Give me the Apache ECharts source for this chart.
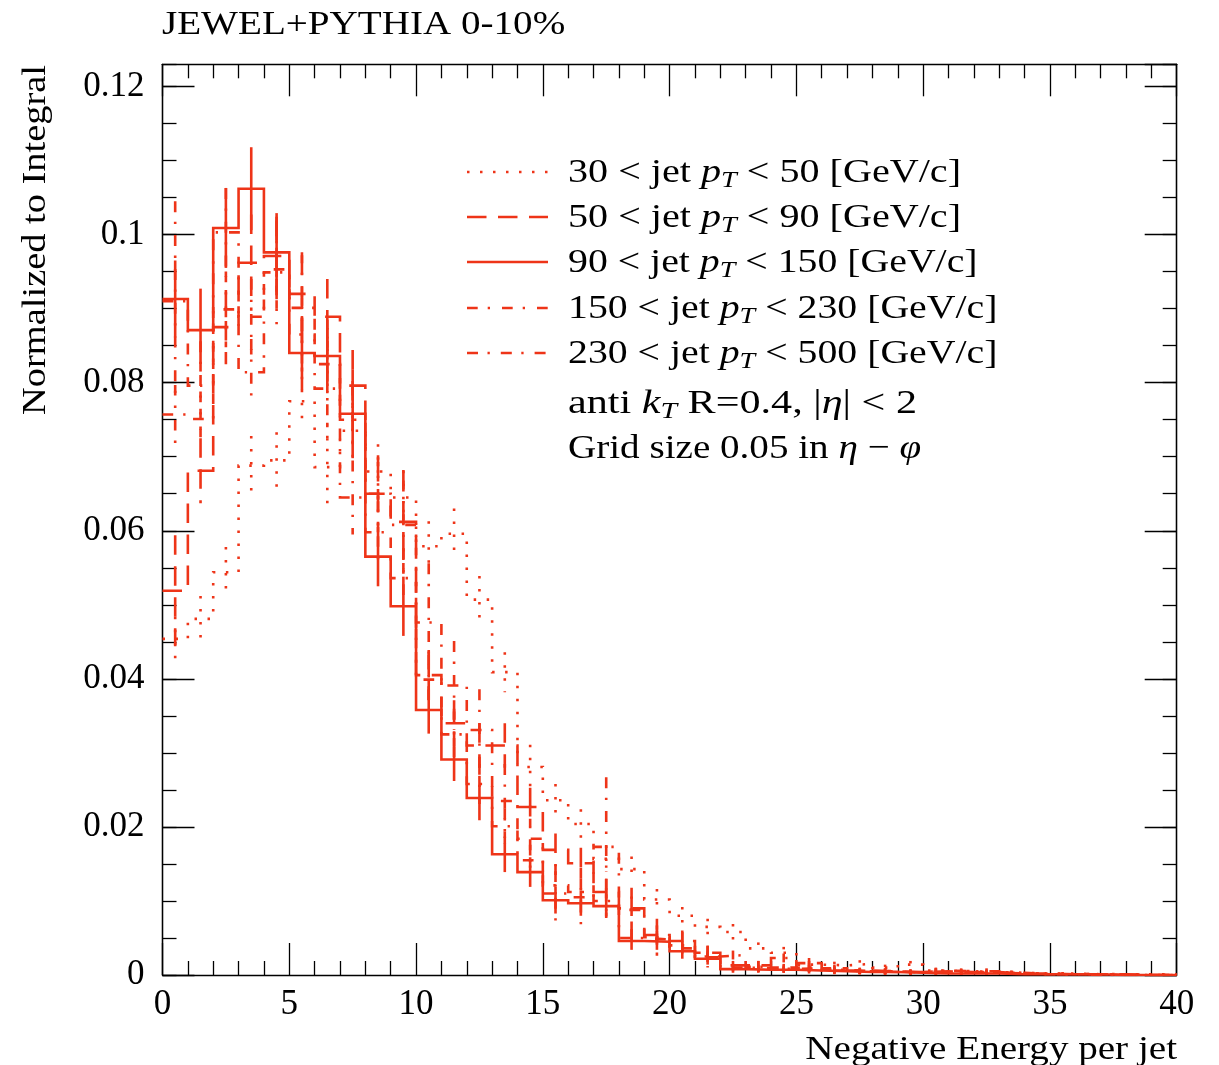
<!DOCTYPE html>
<html>
<head>
<meta charset="utf-8">
<title>JEWEL+PYTHIA 0-10%</title>
<script src="https://cdn.jsdelivr.net/npm/echarts@6/dist/echarts.min.js"></script>
<style>
    html, body { margin: 0; padding: 0; background: #fff; }
    #chart { width: 1219px; height: 1065px; }
</style>
</head>
<body>
<div id="chart"></div>
<script type="text/javascript">
// lower edge of each bin (bin width 1)
var binLow = [0, 1, 2, 3, 4, 5, 6, 7, 8, 9, 10, 11, 12, 13, 14, 15, 16, 17, 18, 19,
    20, 21, 22, 23, 24, 25, 26, 27, 28, 29, 30, 31, 32, 33, 34, 35, 36, 37, 38, 39];

// 30 < pT < 50 (dotted)
var pt30_50 = [0.0454, 0.0481, 0.0544, 0.0688, 0.0695, 0.0775, 0.0686, 0.0735, 0.0680, 0.0645,
    0.0579, 0.0596, 0.0507, 0.0409, 0.0281, 0.0236, 0.0204, 0.0157, 0.0143, 0.0102,
    0.0080, 0.0065, 0.0058, 0.0036, 0.0030, 0.0014, 0.0013, 0.0015, 0.0010, 0.0014,
    0.0006, 0.0005, 0.0004, 0.0003, 0.0002, 0.0002, 0.0001, 0.0001, 0.0001, 0.0001];
var err30_50 = [0.0030, 0.0031, 0.0034, 0.0040, 0.0038, 0.0033, 0.0060, 0.0038, 0.0037, 0.0036,
    0.0034, 0.0034, 0.0032, 0.0027, 0.0030, 0.0022, 0.0020, 0.0018, 0.0017, 0.0014,
    0.0012, 0.0011, 0.0011, 0.0008, 0.0008, 0.0005, 0.0005, 0.0005, 0.0004, 0.0005,
    0.0003, 0.0003, 0.0003, 0.0002, 0.0002, 0.0002, 0.0001, 0.0001, 0.0001, 0.0001];

// 50 < pT < 90 (dashed)
var pt50_90 = [0.0519, 0.0681, 0.0875, 0.0962, 0.0971, 0.0920, 0.0889, 0.0796, 0.0650, 0.0612,
    0.0405, 0.0340, 0.0310, 0.0310, 0.0227, 0.0169, 0.0151, 0.0112, 0.0090, 0.0054,
    0.0046, 0.0030, 0.0013, 0.0013, 0.0010, 0.0016, 0.0009, 0.0006, 0.0005, 0.0004,
    0.0005, 0.0004, 0.0004, 0.0002, 0.0002, 0.0001, 0.0001, 0.0001, 0.0000, 0.0000];
var err50_90 = [0.0075, 0.0044, 0.0050, 0.0065, 0.0053, 0.0052, 0.0051, 0.0048, 0.0043, 0.0070,
    0.0034, 0.0031, 0.0030, 0.0030, 0.0026, 0.0022, 0.0021, 0.0018, 0.0016, 0.0013,
    0.0012, 0.0009, 0.0006, 0.0006, 0.0005, 0.0007, 0.0005, 0.0004, 0.0004, 0.0003,
    0.0004, 0.0003, 0.0003, 0.0002, 0.0002, 0.0002, 0.0002, 0.0002, 0.0000, 0.0000];

// 90 < pT < 150 (solid)
var pt90_150 = [0.0913, 0.0871, 0.1009, 0.1062, 0.0976, 0.0840, 0.0836, 0.0758, 0.0565, 0.0498,
    0.0358, 0.0291, 0.0239, 0.0163, 0.0139, 0.0101, 0.0097, 0.0093, 0.0046, 0.0045,
    0.0032, 0.0022, 0.0008, 0.0007, 0.0007, 0.0006, 0.0005, 0.0004, 0.0004, 0.0003,
    0.0002, 0.0002, 0.0002, 0.0001, 0.0001, 0.0001, 0.0001, 0.0000, 0.0000, 0.0000];
var err90_150 = [0.0052, 0.0056, 0.0054, 0.0056, 0.0053, 0.0050, 0.0049, 0.0060, 0.0040, 0.0040,
    0.0032, 0.0029, 0.0030, 0.0024, 0.0020, 0.0018, 0.0017, 0.0016, 0.0012, 0.0011,
    0.0010, 0.0008, 0.0005, 0.0004, 0.0004, 0.0004, 0.0004, 0.0003, 0.0003, 0.0003,
    0.0002, 0.0002, 0.0002, 0.0001, 0.0001, 0.0001, 0.0001, 0.0000, 0.0000, 0.0000];

// 150 < pT < 230 (dash-dot)
var pt150_230 = [0.0757, 0.0751, 0.0899, 0.0889, 0.0953, 0.0865, 0.0825, 0.0750, 0.0598, 0.0536,
    0.0399, 0.0325, 0.0258, 0.0201, 0.0155, 0.0121, 0.0112, 0.0100, 0.0050, 0.0048,
    0.0036, 0.0024, 0.0010, 0.0009, 0.0008, 0.0009, 0.0006, 0.0005, 0.0005, 0.0003,
    0.0003, 0.0003, 0.0003, 0.0002, 0.0001, 0.0001, 0.0001, 0.0000, 0.0000, 0.0000];
var err150_230 = [0.0040, 0.0037, 0.0051, 0.0051, 0.0053, 0.0050, 0.0049, 0.0047, 0.0042, 0.0039,
    0.0034, 0.0031, 0.0027, 0.0024, 0.0021, 0.0019, 0.0018, 0.0017, 0.0012, 0.0012,
    0.0010, 0.0008, 0.0005, 0.0005, 0.0005, 0.0005, 0.0004, 0.0004, 0.0004, 0.0003,
    0.0003, 0.0003, 0.0003, 0.0002, 0.0002, 0.0002, 0.0002, 0.0000, 0.0000, 0.0000];

// 230 < pT < 500 (dash-dot)
var pt230_500 = [0.0910, 0.0796, 0.1003, 0.0814, 0.0949, 0.0901, 0.0792, 0.0645, 0.0650, 0.0608,
    0.0476, 0.0391, 0.0331, 0.0235, 0.0184, 0.0110, 0.0105, 0.0173, 0.0088, 0.0051,
    0.0040, 0.0025, 0.0027, 0.0011, 0.0023, 0.0010, 0.0007, 0.0005, 0.0004, 0.0004,
    0.0006, 0.0005, 0.0005, 0.0003, 0.0001, 0.0001, 0.0000, 0.0000, 0.0000, 0.0000];
var err230_500 = [0.0135, 0.0060, 0.0060, 0.0045, 0.0070, 0.0075, 0.0070, 0.0050, 0.0052, 0.0060,
    0.0080, 0.0060, 0.0055, 0.0050, 0.0045, 0.0040, 0.0040, 0.0094, 0.0030, 0.0025,
    0.0020, 0.0015, 0.0006, 0.0008, 0.0006, 0.0006, 0.0005, 0.0004, 0.0004, 0.0004,
    0.0004, 0.0004, 0.0004, 0.0003, 0.0002, 0.0002, 0.0000, 0.0000, 0.0000, 0.0000];

var red = '#ee3418';
var font = 'Liberation Serif';
var lw = 2.6;

var hists = [
    { label: '{n|30 < jet }{i|p}{s|T}{n| < 50 [GeV/c]}', vals: pt30_50, errs: err30_50, dash: [2.5, 10.5] },
    { label: '{n|50 < jet }{i|p}{s|T}{n| < 90 [GeV/c]}', vals: pt50_90, errs: err50_90, dash: [19.5, 11.5] },
    { label: '{n|90 < jet }{i|p}{s|T}{n| < 150 [GeV/c]}', vals: pt90_150, errs: err90_150, dash: null },
    { label: '{n|150 < jet }{i|p}{s|T}{n| < 230 [GeV/c]}', vals: pt150_230, errs: err150_230, dash: [10.7, 10, 2.3, 12] },
    { label: '{n|230 < jet }{i|p}{s|T}{n| < 500 [GeV/c]}', vals: pt230_500, errs: err230_500, dash: [11, 9.5, 2.3, 11] }
];

function stepData(vals) {
    var d = [];
    for (var k = 0; k < vals.length; k++) {
        d.push([binLow[k], vals[k]]);
    }
    d.push([binLow[vals.length - 1] + 1, vals[vals.length - 1]]);
    return d;
}

function errData(vals, errs) {
    var d = [];
    for (var k = 0; k < vals.length; k++) {
        d.push([binLow[k] + 0.5, vals[k], errs[k]]);
    }
    return d;
}

function errorBar(dash) {
    return function (params, api) {
        var e = api.value(2);
        if (!e) return;
        var v = api.value(1);
        var top = api.coord([api.value(0), v + e]);
        var bot = api.coord([api.value(0), Math.max(v - e, 0)]);
        return {
            type: 'line',
            shape: { x1: top[0], y1: top[1], x2: bot[0], y2: bot[1] },
            style: { stroke: red, lineWidth: lw, lineDash: dash, lineCap: 'butt' }
        };
    };
}

var rich = {
    n: { fontFamily: font, fontSize: 34, color: '#000' },
    i: { fontFamily: font, fontSize: 34, fontStyle: 'italic', color: '#000' },
    s: { fontFamily: font, fontSize: 24, fontStyle: 'italic', color: '#000', padding: [16, 0, 0, 0] }
};

var series = [];
var graphics = [];
var legendY = [172, 217, 262, 308, 353];
var legendScale = [1.18, 1.18, 1.17, 1.17, 1.17];

hists.forEach(function (h, i) {
    series.push({
        type: 'line',
        step: 'end',
        symbol: 'none',
        data: stepData(h.vals),
        lineStyle: { color: red, width: lw, type: h.dash ? h.dash : 'solid', cap: 'butt', join: 'miter' },
        animation: false,
        z: 3
    });
    series.push({
        type: 'custom',
        renderItem: errorBar(h.dash),
        data: errData(h.vals, h.errs),
        encode: { x: 0, y: 1 },
        animation: false,
        z: 3
    });
    graphics.push({
        type: 'line',
        shape: { x1: 467, y1: legendY[i], x2: 548, y2: legendY[i] },
        style: { stroke: red, lineWidth: lw, lineDash: h.dash, lineCap: 'butt' }
    });
    graphics.push({
        type: 'text', x: 568, y: legendY[i] + 1, scaleX: legendScale[i],
        style: { text: h.label, rich: rich, align: 'left', verticalAlign: 'middle' }
    });
});

graphics.push({
    type: 'text', x: 568, y: 404, scaleX: 1.24,
    style: { text: '{n|anti }{i|k}{s|T}{n| R=0.4, |}{i|η}{n|| < 2}', rich: rich, align: 'left', verticalAlign: 'middle' }
});
graphics.push({
    type: 'text', x: 568, y: 449, scaleX: 1.15,
    style: { text: '{n|Grid size 0.05 in }{i|η}{n| − }{i|φ}', rich: rich, align: 'left', verticalAlign: 'middle' }
});
// plot title
graphics.push({
    type: 'text', x: 162, y: 25, scaleX: 1.15,
    style: { text: 'JEWEL+PYTHIA 0-10%', fontFamily: font, fontSize: 34, fill: '#000', align: 'left', verticalAlign: 'middle' }
});
// axis titles
graphics.push({
    type: 'text', x: 1177, y: 1050, scaleX: 1.15,
    style: { text: 'Negative Energy per jet', fontFamily: font, fontSize: 34, fill: '#000', align: 'right', verticalAlign: 'middle' }
});
graphics.push({
    type: 'text', x: 36, y: 65, rotation: Math.PI / 2, scaleX: 1.13,
    style: { text: 'Normalized to Integral', fontFamily: font, fontSize: 34, fill: '#000', align: 'right', verticalAlign: 'middle' }
});

var frame = { color: '#000', width: 1.3 };

function xAxisDef(pos, labels) {
    return {
        type: 'value', position: pos, min: 0, max: 40, interval: 5,
        axisLine: { show: true, onZero: false, lineStyle: frame },
        axisTick: { show: true, inside: true, length: 32, lineStyle: frame },
        minorTick: { show: true, splitNumber: 5, length: 14, lineStyle: frame },
        splitLine: { show: false },
        axisLabel: { show: labels, fontFamily: font, fontSize: 35, color: '#000', margin: 12 }
    };
}

function yAxisDef(pos, step, len, labels) {
    return {
        type: 'value', position: pos, min: 0, max: 0.123, interval: step,
        axisLine: { show: true, onZero: false, lineStyle: frame },
        axisTick: { show: true, inside: true, length: len, lineStyle: frame },
        splitLine: { show: false },
        axisLabel: {
            show: labels, fontFamily: font, fontSize: 35, color: '#000', margin: 18,
            showMaxLabel: false,
            formatter: function (v) {
                var r = Math.round(v / 0.02);
                if (Math.abs(v - r * 0.02) > 1e-9) return '';
                return String(+(r * 0.02).toFixed(2));
            }
        }
    };
}

var chart = echarts.init(document.getElementById('chart'));
chart.setOption({
    backgroundColor: '#fff',
    animation: false,
    grid: { left: 162.5, right: 42.3, top: 64.3, bottom: 90, containLabel: false },
    xAxis: [xAxisDef('bottom', true), xAxisDef('top', false)],
    yAxis: [
        yAxisDef('left', 0.02, 32, true),
        yAxisDef('left', 0.005, 14, false),
        yAxisDef('right', 0.02, 32, false),
        yAxisDef('right', 0.005, 14, false)
    ],
    series: series,
    graphic: graphics
});
</script>
</body>
</html>
